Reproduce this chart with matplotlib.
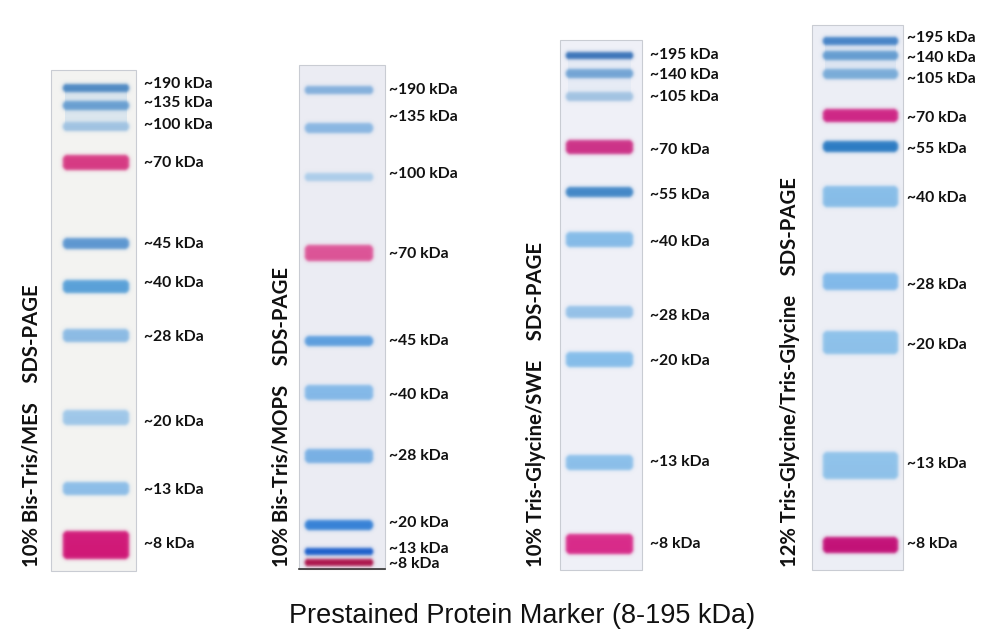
import numpy as np
import matplotlib
matplotlib.use("Agg")
import matplotlib.pyplot as plt
from matplotlib.colors import to_rgb
from matplotlib.patches import Rectangle

# gel systems, one per lane
gel_names = [
    "10% Bis-Tris/MES    SDS-PAGE",
    "10% Bis-Tris/MOPS    SDS-PAGE",
    "10% Tris-Glycine/SWE    SDS-PAGE",
    "12% Tris-Glycine/Tris-Glycine    SDS-PAGE",
]

# marker sizes (kDa) resolved in each gel
kda_1 = [190, 135, 100, 70, 45, 40, 28, 20, 13, 8]
kda_2 = [190, 135, 100, 70, 45, 40, 28, 20, 13, 8]
kda_3 = [195, 140, 105, 70, 55, 40, 28, 20, 13, 8]
kda_4 = [195, 140, 105, 70, 55, 40, 28, 20, 13, 8]

# migration of each band (pixels from the top of the picture)
mig_1 = [88, 106, 127, 163, 244, 287, 336, 418, 489, 545]
mig_2 = [90, 128, 177, 253, 341, 393, 456, 525, 552, 563]
mig_3 = [56, 74, 97, 147, 192, 240, 312, 360, 463, 544]
mig_4 = [41, 56, 74, 116, 147, 197, 282, 343, 466, 545]

# where the size label sits next to each band
lab_1 = [84, 103, 125, 163, 244, 283, 337, 422, 490, 544]
lab_2 = [90, 117, 174, 254, 341, 395, 456, 523, 549, 564]
lab_3 = [55, 75, 97, 150, 195, 242, 316, 361, 462, 544]
lab_4 = [38, 58, 79, 118, 149, 198, 285, 345, 464, 544]

# band thickness
thick_1 = [8, 9, 9, 15, 11, 13, 13, 15, 13, 28]
thick_2 = [8, 10, 8, 16, 10, 15, 14, 10, 7, 7]
thick_3 = [7, 9, 9, 14, 10, 15, 12, 15, 15, 20]
thick_4 = [8, 9, 10, 13, 11, 21, 17, 23, 27, 16]

# band colours
col_1 = ["#4f8cc8", "#6aa2d6", "#a4c8e8", "#dc3a86", "#5e9ad6", "#5aa4de",
         "#8ebfea", "#a2ccef", "#8fc2ee", "#d6177a"]
col_2 = ["#86b4e2", "#8cbbe8", "#b0d2f0", "#e2559a", "#5ea2e4", "#86bdee",
         "#7ab4ea", "#3684dc", "#1a60d0", "#b0104a"]
col_3 = ["#3a76be", "#74a8da", "#a6c8e8", "#d2328a", "#428acc", "#88c0ee",
         "#98c6ee", "#88c2f0", "#8ec4f0", "#de2a8c"]
col_4 = ["#4686cc", "#66a0d6", "#7cb0de", "#d42588", "#2c7ec8", "#8ac2ee",
         "#84bef0", "#90c6f0", "#92c7f0", "#c8107a"]

# lane boxes: left, right, top, bottom, label x, band left, band right, title x
lanes = [
    (51, 136, 70, 571, 144, 63, 129, 32),
    (299, 385, 65, 569, 389, 305, 373, 282),
    (560, 642, 40, 570, 650, 566, 633, 536),
    (812, 903, 25, 570, 907, 823, 898, 790),
]
lane_bg = ["#f3f3f1", "#ebecf3", "#eff0f7", "#eceef5"]
top_haze = [0.3, 0.0, 0.12, 0.2]

title = "Prestained Protein Marker (8-195 kDa)"


def draw_band(ax, x0, x1, yc, h, color, soft=0.9):
    pad = 4 * soft + 2
    wx, wy = (x1 - x0) / 2, h / 2
    r = min(wy, 5)
    ys = np.linspace(-wy - pad, wy + pad, 90)
    xs = np.linspace(-wx - pad, wx + pad, 200)
    X, Y = np.meshgrid(xs, ys)
    qx = np.abs(X) - (wx - r)
    qy = np.abs(Y) - (wy - r)
    d = np.hypot(np.maximum(qx, 0), np.maximum(qy, 0)) + np.minimum(np.maximum(qx, qy), 0) - r
    a = 1 / (1 + np.exp(d / soft))
    # a bit denser toward the lower edge of the band
    shade = 0.88 + 0.12 * np.clip((Y + wy) / (2 * wy), 0, 1)
    rgb = np.array(to_rgb(color))
    rgba = np.zeros(X.shape + (4,))
    rgba[..., :3] = np.clip(rgb[None, None, :] * (1.05 - 0.08 * shade[..., None]), 0, 1)
    rgba[..., 3] = np.clip(a * (0.8 + 0.2 * shade), 0, 1)
    ax.imshow(rgba, extent=(x0 - pad, x1 + pad, yc + wy + pad, yc - wy - pad),
              interpolation="bilinear", aspect="auto", zorder=3)


fig = plt.figure(figsize=(10, 6.39), dpi=100)
ax = fig.add_axes([0, 0, 1, 1])
ax.set_xlim(0, 1000)
ax.set_ylim(639, 0)
ax.axis("off")

all_kda = [kda_1, kda_2, kda_3, kda_4]
all_mig = [mig_1, mig_2, mig_3, mig_4]
all_lab = [lab_1, lab_2, lab_3, lab_4]
all_thick = [thick_1, thick_2, thick_3, thick_4]
all_col = [col_1, col_2, col_3, col_4]

for i, (left, right, top, bottom, lx, b0, b1, tx) in enumerate(lanes):
    ax.add_patch(Rectangle((left, top), right - left, bottom - top,
                           facecolor=lane_bg[i], edgecolor="#c9ccd3", lw=0.8, zorder=1))
    if i == 1:
        ax.plot([left, right], [bottom, bottom], color="#333333", lw=1.2, zorder=2)
    if top_haze[i] > 0:
        hz0 = all_mig[i][0] - 3
        hz1 = all_mig[i][2] + 3
        ax.add_patch(Rectangle((b0 + 2, hz0), b1 - b0 - 4, hz1 - hz0,
                               facecolor="#a6c8e8", alpha=top_haze[i], lw=0, zorder=2))
    for k, y, h, c, ly in zip(all_kda[i], all_mig[i], all_thick[i], all_col[i], all_lab[i]):
        draw_band(ax, b0, b1, y, h, c)
        ax.text(lx, ly, f"~{k} kDa", ha="left", va="center", fontsize=11.3,
                fontweight="bold", family="Lato", color="#111111")
    ax.text(tx, 567, gel_names[i], rotation=90, ha="center", va="bottom",
            fontsize=14.6, fontweight="bold", family="Lato", color="#111111")

ax.text(522, 616, title, ha="center", va="center", fontsize=19.5,
        family="Liberation Sans", color="#111111")

fig.savefig("out.png", dpi=100, facecolor="white")
